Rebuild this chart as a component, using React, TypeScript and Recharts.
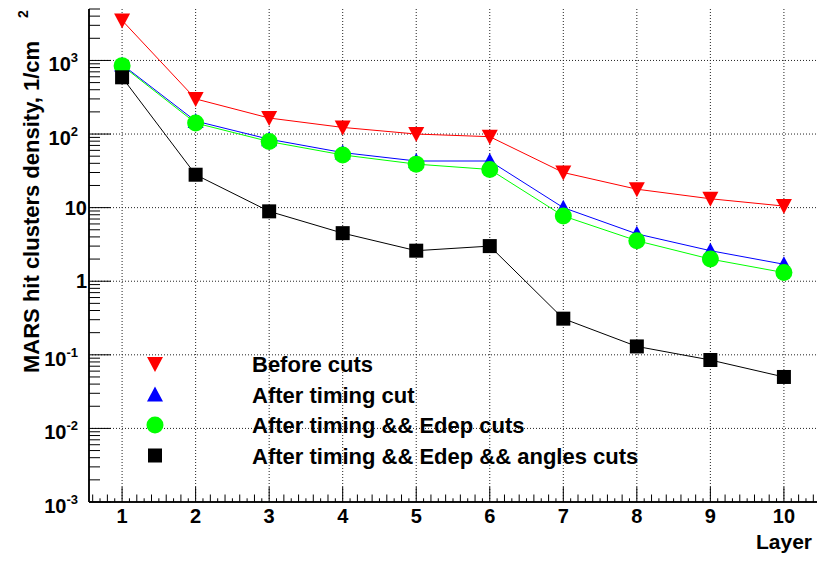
import React from 'react';
import { LineChart, Line, XAxis, YAxis, ReferenceLine, Legend } from 'recharts';

const LAYERS = [1, 2, 3, 4, 5, 6, 7, 8, 9, 10];
const BEFORE_CUTS = [3500, 300, 165, 123, 100, 92, 30, 17.8, 13.2, 10.5];
const AFTER_TIMING = [880, 150, 85, 56, 43, 43, 10, 4.4, 2.6, 1.7];
const AFTER_EDEP = [850, 141, 79, 52, 39, 33, 7.7, 3.55, 2.0, 1.31];
const AFTER_ANGLES = [590, 28, 8.9, 4.5, 2.6, 3.0, 0.31, 0.13, 0.085, 0.05];

const SERIES_KEYS = ['before', 'timing', 'edep', 'angles'];
const SERIES_NAMES = [
  'Before cuts',
  'After timing cut',
  'After timing && Edep cuts',
  'After timing && Edep && angles cuts',
];
const SERIES_COLORS = ['#ff0000', '#0000ff', '#00ff00', '#000000'];
const SERIES_MARKERS = ['down', 'up', 'circle', 'square'];

const X_LABELS = ['1', '2', '3', '4', '5', '6', '7', '8', '9', '10'];
const X_DOMAIN = [0.55, 10.45];
const Y_DOMAIN = [0.001, 5000];
const Y_DECADES = [0.001, 0.01, 0.1, 1, 10, 100, 1000];
const Y_LABELS = [
  { base: '10', exp: '-3' },
  { base: '10', exp: '-2' },
  { base: '10', exp: '-1' },
  { base: '1', exp: '' },
  { base: '10', exp: '' },
  { base: '10', exp: '2' },
  { base: '10', exp: '3' },
];
const X_TITLE = 'Layer';
const Y_TITLE = 'MARS hit clusters density, 1/cm';
const Y_TITLE_SUP = '2';

const SERIES_VALUES = [BEFORE_CUTS, AFTER_TIMING, AFTER_EDEP, AFTER_ANGLES];
const data = LAYERS.map((layer, i) => {
  const row: any = { layer };
  SERIES_KEYS.forEach((k, s) => {
    row[k] = SERIES_VALUES[s][i];
  });
  return row;
});

// tick positions (axis decoration)
const Y_TICKS: number[] = [];
Y_DECADES.forEach((d) => {
  for (let m = 1; m <= 9; m++) {
    const v = parseFloat((m * d).toPrecision(6));
    if (v <= Y_DOMAIN[1]) Y_TICKS.push(v);
  }
});
const X_TICKS: number[] = [];
for (let t = 6; t <= 104; t++) X_TICKS.push(t / 10);

const FONT = '"Liberation Sans", Arial, Helvetica, sans-serif';

function Marker({ kind, cx, cy, color }: any) {
  if (cx == null || cy == null) return null;
  switch (kind) {
    case 'down':
      return <polygon points={`${cx - 8},${cy - 7} ${cx + 8},${cy - 7} ${cx},${cy + 8}`} fill={color} />;
    case 'up':
      return <polygon points={`${cx - 8},${cy + 7} ${cx + 8},${cy + 7} ${cx},${cy - 8}`} fill={color} />;
    case 'circle':
      return <circle cx={cx} cy={cy} r={8.5} fill={color} />;
    default:
      return <rect x={cx - 7} y={cy - 7} width={14} height={14} fill={color} />;
  }
}

const YTick = (props: any) => {
  const { x, y, payload } = props;
  const v = payload.value;
  const idx = Y_DECADES.findIndex((d) => Math.abs(Math.log10(d) - Math.log10(v)) < 1e-6);
  const major = idx >= 0;
  const lab = major ? Y_LABELS[idx] : null;
  return (
    <g>
      <line x1={x} x2={x + (major ? 22 : 11)} y1={y} y2={y} stroke="#000" strokeWidth={1} />
      {lab && lab.exp ? (
        <text x={x - 11} y={y + 11} textAnchor="end" fontFamily={FONT} fontWeight="bold" fontSize={20} fill="#000">
          {lab.base}
          <tspan dy={-9} fontSize={13}>{lab.exp}</tspan>
        </text>
      ) : null}
      {lab && !lab.exp ? (
        <text x={x - 2} y={y + 7} textAnchor="end" fontFamily={FONT} fontWeight="bold" fontSize={20} fill="#000">
          {lab.base}
        </text>
      ) : null}
    </g>
  );
};

const XTick = (props: any) => {
  const { x, y, payload } = props;
  const tenth = Math.round(payload.value * 10);
  const major = tenth % 10 === 0;
  const minor = tenth % 2 === 0;
  const len = major ? 15 : minor ? 7.5 : 3.7;
  return (
    <g>
      <line x1={x} x2={x} y1={y} y2={y - len} stroke="#000" strokeWidth={1} />
      {major ? (
        <text x={x} y={y + 21} textAnchor="middle" fontFamily={FONT} fontWeight="bold" fontSize={20} fill="#000">
          {X_LABELS[tenth / 10 - 1]}
        </text>
      ) : null}
    </g>
  );
};

const Overlay = () => (
  <svg width={826} height={563} style={{ position: 'absolute', left: 0, top: 0 }}>
    {SERIES_NAMES.map((name, i) => {
      const baseY = 372 + i * 30.5;
      return (
        <g key={name}>
          <Marker kind={SERIES_MARKERS[i]} cx={155} cy={baseY - 8} color={SERIES_COLORS[i]} />
          <text x={252} y={baseY} fontFamily={FONT} fontWeight="bold" fontSize={22} fill="#000">
            {name}
          </text>
        </g>
      );
    })}
    <text x={812} y={549} textAnchor="end" fontFamily={FONT} fontWeight="bold" fontSize={21} fill="#000">
      {X_TITLE}
    </text>
    <text
      x={38.5}
      y={373}
      transform="rotate(-90 38.5 373)"
      fontFamily={FONT}
      fontWeight="bold"
      fontSize={22}
      fill="#000"
    >
      {Y_TITLE}
    </text>
    <text
      x={28}
      y={18}
      transform="rotate(-90 28 18)"
      fontFamily={FONT}
      fontWeight="bold"
      fontSize={14}
      fill="#000"
    >
      {Y_TITLE_SUP}
    </text>
  </svg>
);

export default function App() {
  return (
    <div style={{ position: 'absolute', left: 0, top: 0, width: 826, height: 563, background: '#fff' }}>
      <LineChart width={826} height={563} data={data} margin={{ top: 9, right: 9, left: 0, bottom: 0 }}>
        <XAxis
          dataKey="layer"
          type="number"
          domain={X_DOMAIN}
          ticks={X_TICKS}
          interval={0}
          tickSize={0}
          tickMargin={0}
          tickLine={false}
          tick={XTick}
          height={61}
          axisLine={{ stroke: '#111', strokeWidth: 2 }}
          allowDataOverflow
        />
        <XAxis
          xAxisId="top"
          orientation="top"
          type="number"
          domain={X_DOMAIN}
          height={0}
          tick={false}
          tickLine={false}
          axisLine={{ stroke: '#444', strokeWidth: 2 }}
        />
        <YAxis
          scale="log"
          type="number"
          domain={Y_DOMAIN}
          ticks={Y_TICKS}
          interval={0}
          tickSize={0}
          tickMargin={0}
          tickLine={false}
          tick={YTick}
          width={89}
          axisLine={{ stroke: '#111', strokeWidth: 2 }}
          allowDataOverflow
        />
        <YAxis
          yAxisId="right"
          orientation="right"
          type="number"
          width={0}
          tick={false}
          tickLine={false}
          axisLine={{ stroke: '#444', strokeWidth: 2 }}
        />
        {Y_DECADES.slice(1).map((d) => (
          <ReferenceLine key={'gy' + d} y={d} stroke="#222" strokeWidth={1} strokeDasharray="1 2" />
        ))}
        {LAYERS.map((l) => (
          <ReferenceLine key={'gx' + l} x={l} stroke="#222" strokeWidth={1} strokeDasharray="1 2" />
        ))}
        {SERIES_KEYS.map((k, i) => (
          <Line
            key={k}
            dataKey={k}
            name={SERIES_NAMES[i]}
            type="linear"
            stroke={SERIES_COLORS[i]}
            strokeWidth={1}
            isAnimationActive={false}
            activeDot={false}
            dot={(p: any) => (
              <Marker key={k + p.index} kind={SERIES_MARKERS[i]} cx={p.cx} cy={p.cy} color={SERIES_COLORS[i]} />
            )}
          />
        ))}
        <Legend
          layout="vertical"
          align="center"
          verticalAlign="middle"
          wrapperStyle={{ position: 'absolute', left: 0, top: 0, width: 826, height: 563, margin: 0, padding: 0, pointerEvents: 'none' }}
          content={() => <Overlay />}
        />
      </LineChart>
    </div>
  );
}
